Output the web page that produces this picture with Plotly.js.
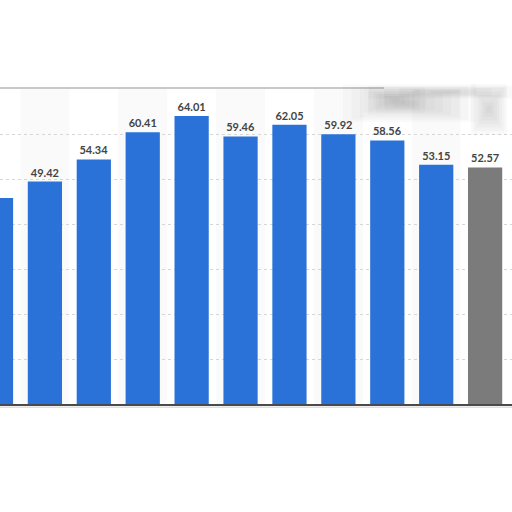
<!DOCTYPE html>
<html>
<head>
<meta charset="utf-8">
<script src="https://cdn.plot.ly/plotly-3.0.1.min.js"></script>
<style>
  html, body { margin: 0; padding: 0; background: #fff; }
  #chart { width: 512px; height: 512px; }
</style>
</head>
<body>
<div id="chart"></div>
<script>
// values (first bar is cut off at the left edge)
var categories = ['2010', '2011', '2012', '2013', '2014', '2015', '2016', '2017', '2018', '2019', '2020'];
var values = [45.78, 49.42, 54.34, 60.41, 64.01, 59.46, 62.05, 59.92, 58.56, 53.15, 52.57];
var barColors = ['#2a72d8', '#2a72d8', '#2a72d8', '#2a72d8', '#2a72d8', '#2a72d8',
                 '#2a72d8', '#2a72d8', '#2a72d8', '#2a72d8', '#7b7b7b'];

var xIdx = categories.map(function (c, i) { return i; });

var trace = {
  type: 'bar',
  x: xIdx,
  y: values,
  marker: { color: barColors },
  text: values.map(function (v) { return v.toFixed(2); }),
  textposition: 'outside',
  cliponaxis: false,
  textfont: { family: 'Lato, "Open Sans", sans-serif', size: 11, color: '#444444', weight: 'bold' },
  hoverinfo: 'none'
};

// faint alternating column stripes behind the bars
var shapes = [];
xIdx.forEach(function (i) {
  if (i % 2 === 1) {
    shapes.push({
      type: 'rect', xref: 'x', yref: 'paper', layer: 'below',
      x0: i - 0.5, x1: i + 0.5, y0: 0, y1: 1,
      fillcolor: '#fafafa', line: { width: 0 }
    });
  }
});

// frame lines: top border and bottom shadow
shapes.push({ type: 'line', xref: 'paper', yref: 'paper', x0: 0, x1: 0.75, y0: 1.003, y1: 1.003,
  line: { color: '#c8c8c8', width: 2 } });
shapes.push({ type: 'line', xref: 'paper', yref: 'paper', x0: 0, x1: 1, y0: -0.01, y1: -0.01,
  line: { color: '#e0e0e0', width: 1.5 } });

// soft grey smudge at the top right, faked with stacked faint boxes
function blob(cx, cy, w, h, steps, op) {
  for (var k = 0; k < steps; k++) {
    var f = 1 - k / steps;
    shapes.push({ type: 'rect', xref: 'paper', yref: 'paper', layer: 'above',
      x0: cx - w * f / 2, x1: cx + w * f / 2, y0: cy - h * f / 2, y1: cy + h * f / 2,
      fillcolor: 'rgba(110,110,110,' + op + ')', line: { width: 0 } });
  }
}
blob(0.80, 0.955, 0.26, 0.12, 8, 0.035);
blob(0.77, 0.965, 0.12, 0.08, 6, 0.04);
blob(0.955, 0.935, 0.07, 0.16, 7, 0.045);
blob(0.87, 0.99, 0.30, 0.04, 5, 0.04);

var layout = {
  width: 512,
  height: 512,
  margin: { l: 0, r: 0, t: 89, b: 108 },
  paper_bgcolor: '#ffffff',
  plot_bgcolor: '#ffffff',
  showlegend: false,
  bargap: 0.3,
  xaxis: {
    range: [0.082, 10.55],
    showticklabels: false,
    ticks: '',
    showgrid: false,
    zeroline: false,
    showline: true,
    linecolor: '#4a4a4a',
    linewidth: 1.5
  },
  yaxis: {
    range: [0, 70],
    dtick: 10,
    showticklabels: false,
    ticks: '',
    showgrid: true,
    gridcolor: '#d6d6d6',
    griddash: 'dot',
    zeroline: false
  },
  shapes: shapes
};

Plotly.newPlot('chart', [trace], layout, { staticPlot: true, displayModeBar: false });
</script>
</body>
</html>
